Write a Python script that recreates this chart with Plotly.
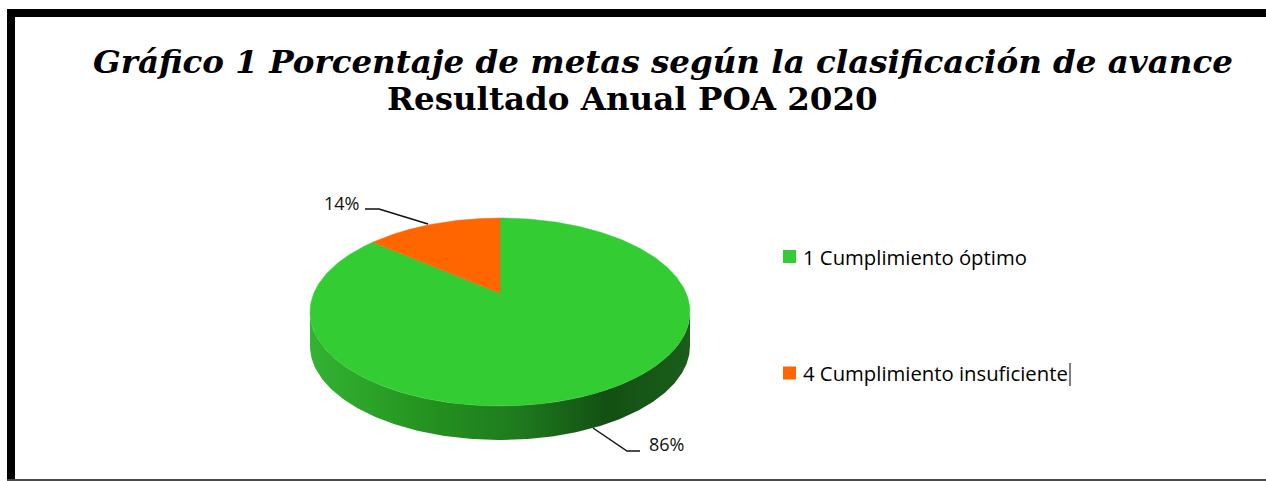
import numpy as np
import plotly.graph_objects as go

# ---- data ----
categories = ["1 Cumplimiento óptimo", "4 Cumplimiento insuficiente"]
values = [86, 14]
pct_labels = ["86%", "14%"]
colors = ["#33CC33", "#FF6600"]

title_line1 = "Gráfico 1 Porcentaje de metas según la clasificación de avance"
title_line2 = "Resultado Anual POA 2020"

# ---- pie geometry (pixel space of the canvas) ----
W, H = 1266, 481
CX, CY, RX, RY, DEPTH, PERSP = 500, 312, 190, 94, 34, 0.2


def proj(theta_deg, r=1.0, dy=0.0):
    t = np.radians(theta_deg)
    u, v = r * np.cos(t), r * np.sin(t)
    w = 1 + PERSP * v
    X = u / w
    Y = (v + PERSP) / w
    x = CX + RX * np.sqrt(1 - PERSP ** 2) * X
    y = CY + dy - RY * Y
    return x, y


fig = go.Figure()

total = float(sum(values))
starts, ends = [], []
a0 = 90.0
for v in values:
    a1 = a0 - 360.0 * v / total
    starts.append(a0)
    ends.append(a1)
    a0 = a1

# front (visible) side range in circle angles
amin = np.degrees(np.arcsin(PERSP))
front_ranges = [(-180 + amin - k * 360, -amin - k * 360) for k in (-1, 0, 1)]

side_scale = [[0.0, "#33B333"], [0.3, "#25931F"], [0.55, "#1E7A1E"],
              [0.78, "#135013"], [1.0, "#1A5E1A"]]

# side walls
for i, (s, e) in enumerate(zip(starts, ends)):
    lo, hi = min(s, e), max(s, e)
    for fr in front_ranges:
        a, b = max(lo, fr[0]), min(hi, fr[1])
        if b <= a:
            continue
        th = np.linspace(a, b, 200)
        xt, yt = proj(th)
        xb, yb = proj(th[::-1], dy=DEPTH)
        xs = np.concatenate([xt, xb, xt[:1]])
        ys = np.concatenate([yt, yb, yt[:1]])
        fig.add_trace(go.Scatter(
            x=xs, y=ys, mode="lines", fill="toself",
            line=dict(width=0, color="rgba(0,0,0,0)"),
            fillgradient=dict(type="horizontal", colorscale=side_scale),
            hoverinfo="skip", showlegend=False))

# top faces
for i, (s, e) in enumerate(zip(starts, ends)):
    th = np.linspace(s, e, 300)
    xa, ya = proj(th)
    x0, y0 = proj(0.0, r=0.0)
    xs = np.concatenate([[x0], xa, [x0]])
    ys = np.concatenate([[y0], ya, [y0]])
    fig.add_trace(go.Scatter(
        x=xs, y=ys, mode="lines", fill="toself", fillcolor=colors[i],
        line=dict(width=0.5, color=colors[i]),
        name=categories[i], hoverinfo="name", showlegend=False))

# legend (markers + text)
leg_x = 789.5
leg_y = [256.5, 373]
fig.add_trace(go.Scatter(
    x=[leg_x] * len(categories), y=leg_y, mode="markers",
    marker=dict(symbol="square", size=13, color=colors, line=dict(width=0)),
    hoverinfo="skip", showlegend=False))

annotations = []
for cat, yy in zip(categories, leg_y):
    annotations.append(dict(x=801, y=yy, xref="x", yref="y", text=cat,
                            showarrow=False, xanchor="left", yanchor="middle",
                            font=dict(family="Open Sans", size=20.3, color="#000000")))

# data labels
label_pos = [(666, 444), (341, 203)]
for lab, (lx, ly) in zip(pct_labels, label_pos):
    annotations.append(dict(x=lx, y=ly, xref="x", yref="y", text=lab,
                            showarrow=False, xanchor="center", yanchor="middle",
                            font=dict(family="Open Sans", size=18, color="#111111")))

# titles
annotations.append(dict(x=663, y=61, xref="x", yref="y", text="<b><i>" + title_line1 + "</i></b>",
                        showarrow=False, xanchor="center", yanchor="middle",
                        font=dict(family="DejaVu Serif", size=32.5, color="#000000")))
annotations.append(dict(x=632, y=98, xref="x", yref="y", text="<b>" + title_line2 + "</b>",
                        showarrow=False, xanchor="center", yanchor="middle",
                        font=dict(family="DejaVu Serif", size=32.5, color="#000000")))

shapes = [
    # frame
    dict(type="rect", xref="x", yref="y", x0=7, x1=W + 5, y0=9, y1=17,
         fillcolor="#000000", line=dict(width=0), layer="above"),
    dict(type="rect", xref="x", yref="y", x0=7, x1=15, y0=9, y1=H + 5,
         fillcolor="#000000", line=dict(width=0), layer="above"),
    dict(type="line", xref="x", yref="y", x0=7, x1=W + 5, y0=480, y1=480,
         line=dict(color="#4A4A4A", width=2), layer="above"),
    # leader lines
    dict(type="path", xref="x", yref="y", path="M 593,428 L 627,451 L 640,451",
         line=dict(color="#111111", width=1.5)),
    dict(type="path", xref="x", yref="y", path="M 365,209 L 379,209 L 428,224",
         line=dict(color="#111111", width=1.5)),
    # text cursor artefact
    dict(type="line", xref="x", yref="y", x0=1070, x1=1070, y0=363, y1=386,
         line=dict(color="#000000", width=1)),
]

fig.update_layout(
    width=W, height=H,
    margin=dict(l=0, r=0, t=0, b=0),
    paper_bgcolor="#FFFFFF", plot_bgcolor="#FFFFFF",
    xaxis=dict(range=[0, W], visible=False, fixedrange=True),
    yaxis=dict(range=[H, 0], visible=False, fixedrange=True),
    annotations=annotations, shapes=shapes,
    showlegend=False,
)

fig.write_html("out.html", config={"displayModeBar": False},
               post_script="document.body.style.margin='0px';")
